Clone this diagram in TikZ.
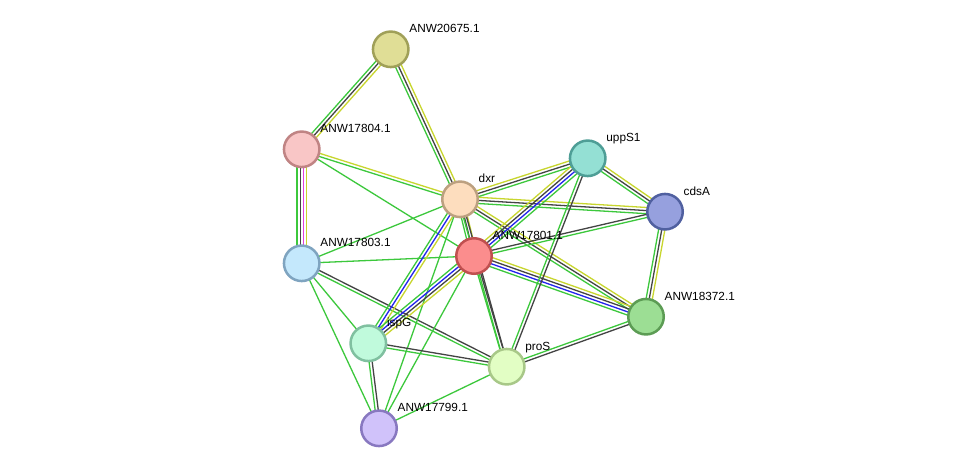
\documentclass[tikz,border=0pt]{standalone}
\usepackage{fontspec}
\setmainfont{Liberation Sans}
\usetikzlibrary{calc,backgrounds}
\definecolor{gr}{HTML}{3CC83C}
\definecolor{dk}{HTML}{444444}
\definecolor{lm}{HTML}{C8D62E}
\definecolor{bl}{HTML}{2222EE}
\definecolor{mg}{HTML}{E040E0}
\newcommand\sedge[4]{%
  \foreach \c [count=\i] in {#4}{%
    \pgfmathsetmacro\off{(\i-(#3+1)/2)*3.1}%
    \draw[edgeline,\c] ($(#1)!\off pt!90:(#2)$) -- ($(#2)!\off pt!-90:(#1)$);
  }}
\begin{document}
\begin{tikzpicture}[x=1pt,y=-1pt,
  prot/.style={circle,minimum size=35.5pt,inner sep=0pt,line width=2.5pt},
  lbl/.style={anchor=base west,inner sep=0pt,font=\fontsize{11.8}{14}\selectfont,text=black},
  edgeline/.style={line width=1.3pt}]
\useasboundingbox (0,0) rectangle (976,474);
% proteins
\node[prot,fill={rgb,255:red,224;green,222;blue,150},draw={rgb,255:red,160;green,160;blue,88}] (n20675) at (390.7,49.3) {};
\node[prot,fill={rgb,255:red,249;green,198;blue,198},draw={rgb,255:red,192;green,132;blue,132}] (n17804) at (301.7,149.3) {};
\node[prot,fill={rgb,255:red,253;green,221;blue,190},draw={rgb,255:red,188;green,160;blue,128}] (dxr) at (460,199.3) {};
\node[prot,fill={rgb,255:red,148;green,224;blue,212},draw={rgb,255:red,78;green,158;blue,150}] (uppS) at (587.7,158.3) {};
\node[prot,fill={rgb,255:red,150;green,160;blue,222},draw={rgb,255:red,80;green,96;blue,160}] (cdsA) at (665,211.7) {};
\node[prot,fill={rgb,255:red,251;green,141;blue,141},draw={rgb,255:red,192;green,80;blue,80}] (n17801) at (474,256) {};
\node[prot,fill={rgb,255:red,196;green,232;blue,252},draw={rgb,255:red,127;green,164;blue,192}] (n17803) at (301.7,263.3) {};
\node[prot,fill={rgb,255:red,156;green,222;blue,148},draw={rgb,255:red,92;green,156;blue,84}] (n18372) at (646,316.7) {};
\node[prot,fill={rgb,255:red,192;green,250;blue,220},draw={rgb,255:red,128;green,192;blue,160}] (ispG) at (368.3,343.3) {};
\node[prot,fill={rgb,255:red,226;green,254;blue,196},draw={rgb,255:red,168;green,200;blue,136}] (proS) at (506.7,366.7) {};
\node[prot,fill={rgb,255:red,208;green,194;blue,250},draw={rgb,255:red,136;green,120;blue,192}] (n17799) at (379,428.3) {};
% labels
\node[lbl] (t20675) at (409.2,32.6) {ANW20675.1};
\node[lbl] (t17804) at (320.2,132.6) {ANW17804.1};
\node[lbl] (tdxr) at (478.5,182.6) {dxr};
\node[lbl] (tuppS) at (606.2,141.6) {uppS1};
\node[lbl] (tcdsA) at (683.5,195.0) {cdsA};
\node[lbl] (t17801) at (492.5,239.3) {ANW17801.1};
\node[lbl] (t17803) at (320.2,246.6) {ANW17803.1};
\node[lbl] (t18372) at (664.5,300.0) {ANW18372.1};
\node[lbl] (tispG) at (386.8,326.6) {ispG};
\node[lbl] (tproS) at (525.2,350.0) {proS};
\node[lbl] (t17799) at (397.5,411.6) {ANW17799.1};
% edges
\begin{scope}[on background layer]
\fill[white] (0,0) rectangle (976,474);
\sedge{n20675}{n17804}{3}{gr,dk,lm}
\sedge{n20675}{dxr}{3}{gr,dk,lm}
\sedge{n17804}{n17803}{4}{gr,dk,mg,lm}
\sedge{n17804}{dxr}{2}{gr,lm}
\sedge{n17804}{n17801}{1}{gr}
\sedge{n17803}{dxr}{1}{gr}
\sedge{n17803}{n17801}{1}{gr}
\sedge{n17803}{ispG}{1}{gr}
\sedge{n17803}{proS}{2}{gr,dk}
\sedge{n17803}{n17799}{1}{gr}
\sedge{dxr}{n17801}{3}{gr,dk,lm}
\sedge{dxr}{ispG}{3}{gr,bl,lm}
\sedge{dxr}{uppS}{3}{gr,dk,lm}
\sedge{dxr}{cdsA}{3}{gr,dk,lm}
\sedge{dxr}{n18372}{3}{gr,dk,lm}
\sedge{dxr}{proS}{2}{gr,dk}
\sedge{dxr}{n17799}{1}{gr}
\sedge{n17801}{uppS}{4}{gr,bl,dk,lm}
\sedge{n17801}{cdsA}{2}{gr,dk}
\sedge{n17801}{n18372}{4}{gr,bl,dk,lm}
\sedge{n17801}{proS}{2}{gr,dk}
\sedge{n17801}{ispG}{4}{gr,bl,dk,lm}
\sedge{n17801}{n17799}{1}{gr}
\sedge{uppS}{cdsA}{3}{gr,dk,lm}
\sedge{uppS}{proS}{2}{gr,dk}
\sedge{cdsA}{n18372}{3}{gr,dk,lm}
\sedge{n18372}{proS}{2}{gr,dk}
\sedge{ispG}{proS}{2}{gr,dk}
\sedge{ispG}{n17799}{2}{gr,dk}
\sedge{n17799}{proS}{1}{gr}
\end{scope}
\end{tikzpicture}
\end{document}
